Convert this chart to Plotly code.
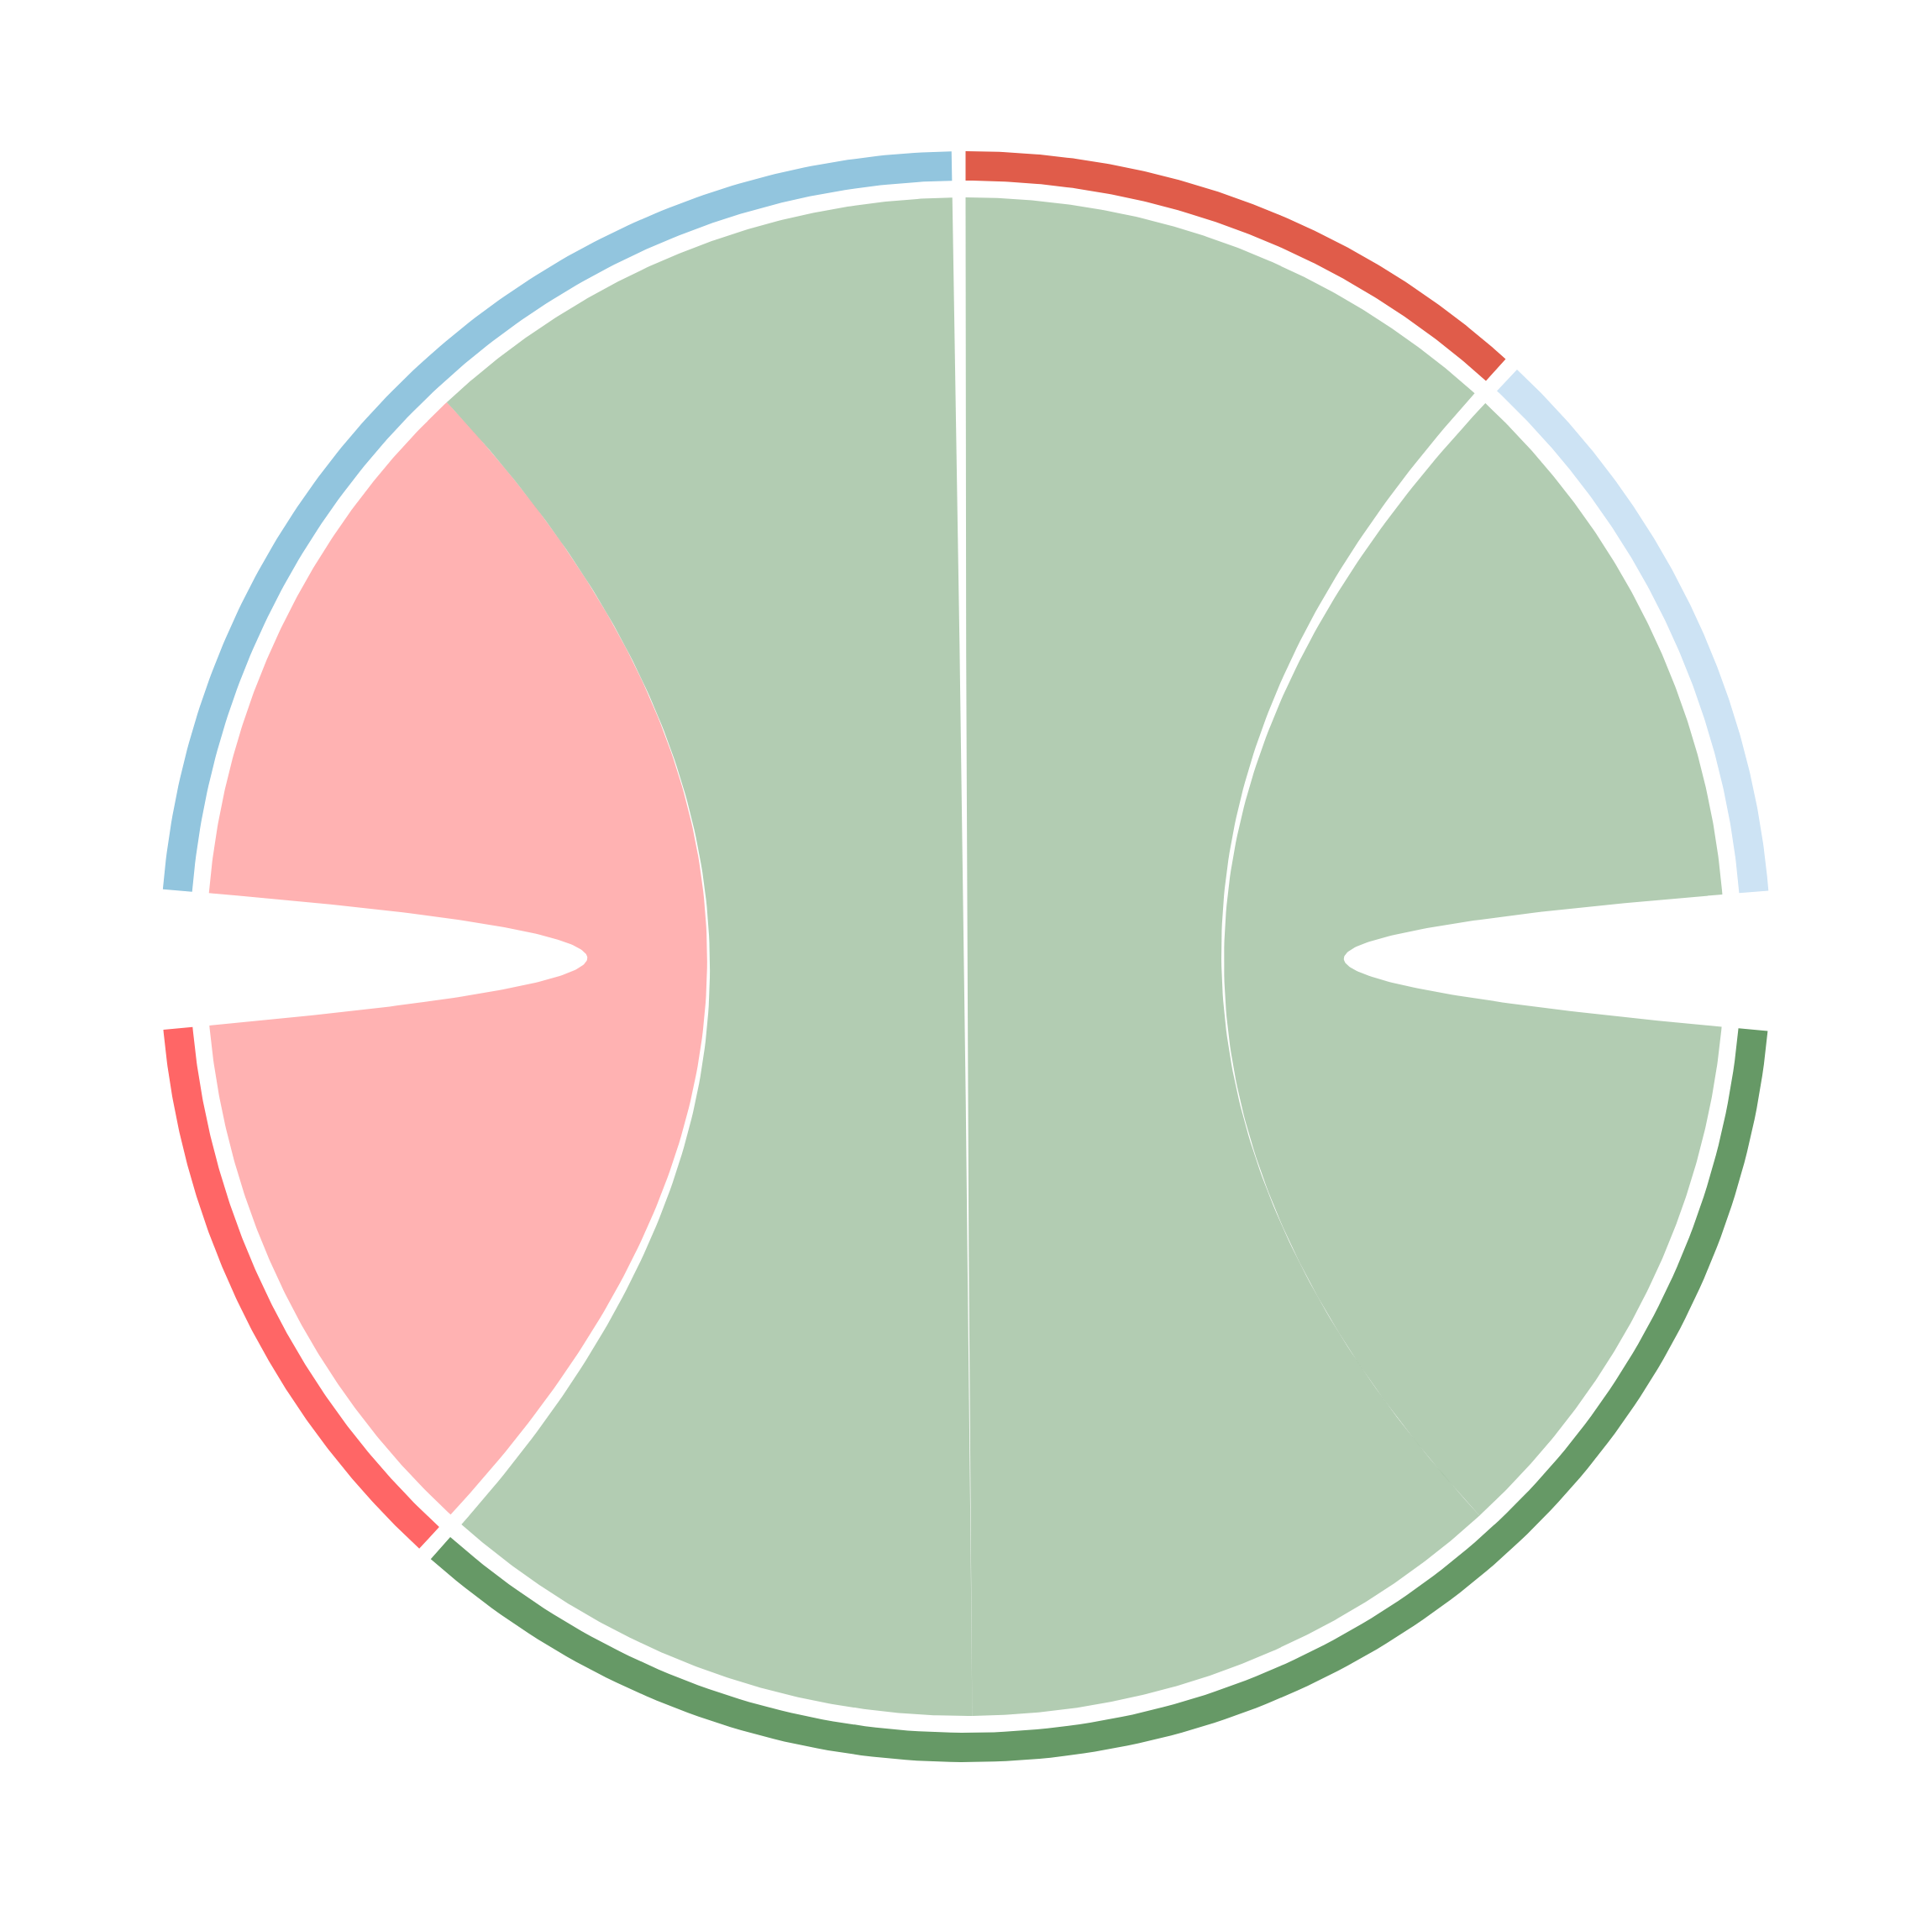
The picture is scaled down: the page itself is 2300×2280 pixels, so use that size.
import numpy as np
import plotly.graph_objects as go

# nodes in clockwise order, starting at 12 o'clock
nodes = ["S2", "S3", "T1", "T2", "S1"]
node_colors = ["#e05c4a", "#cde3f4", "#669966", "#ff6666", "#92c5de"]

# flows between nodes
flow_source = ["S1", "S1", "S2", "S3"]
flow_target = ["T2", "T1", "T1", "T1"]
flow_value = [1, 1, 1, 1]

# layout constants (degrees / radii in data units)
START_ANGLE = 90.0
GAPS_AFTER = [1.1, 10.0, 1.1, 10.0, 1.0]
R_OUT = 1.0
R_IN = 0.9635
R_CHORD = 0.9426
CHORD_ALPHA = 0.5


def hex_rgba(color, alpha):
    color = color.lstrip('#')
    r, g, b = (int(color[i:i + 2], 16) for i in (0, 2, 4))
    return f'rgba({r},{g},{b},{alpha})'


def arc(r, a0, a1, n=160):
    t = np.radians(np.linspace(a0, a1, n))
    return r * np.cos(t), r * np.sin(t)


def bezier(p0, p2, n=160):
    # quadratic curve with the control point at the centre
    t = np.linspace(0, 1, n)
    x = (1 - t) ** 2 * p0[0] + t ** 2 * p2[0]
    y = (1 - t) ** 2 * p0[1] + t ** 2 * p2[1]
    return x, y


def polar(r, a):
    a = np.radians(a)
    return r * np.cos(a), r * np.sin(a)


n = len(nodes)
idx = {name: i for i, name in enumerate(nodes)}
totals = [0.0] * n
for s, t, v in zip(flow_source, flow_target, flow_value):
    totals[idx[s]] += v
    totals[idx[t]] += v

unit = (360.0 - sum(GAPS_AFTER)) / sum(totals)

node_arcs = []
a = START_ANGLE
for i in range(n):
    end = a - totals[i] * unit
    node_arcs.append((a, end))
    a = end - GAPS_AFTER[i]

# sub-arcs for every flow end, placed clockwise, partners ordered by ccw proximity
ends = {}
for i, name in enumerate(nodes):
    links = []
    for k, (s, t, v) in enumerate(zip(flow_source, flow_target, flow_value)):
        if s == name:
            links.append((k, idx[t], v, 'src'))
        elif t == name:
            links.append((k, idx[s], v, 'tgt'))
    links.sort(key=lambda l: (i - l[1]) % n)
    a = node_arcs[i][0]
    for k, j, v, role in links:
        ends[(k, role)] = (a, a - v * unit)
        a -= v * unit

fig = go.Figure()

# chords
for k, (s, t, v) in enumerate(zip(flow_source, flow_target, flow_value)):
    s0, s1 = ends[(k, 'src')]
    t0, t1 = ends[(k, 'tgt')]
    xs, ys = [], []
    x, y = arc(R_CHORD, s0, s1)
    xs += list(x); ys += list(y)
    x, y = bezier(polar(R_CHORD, s1), polar(R_CHORD, t0))
    xs += list(x); ys += list(y)
    x, y = arc(R_CHORD, t0, t1)
    xs += list(x); ys += list(y)
    x, y = bezier(polar(R_CHORD, t1), polar(R_CHORD, s0))
    xs += list(x); ys += list(y)
    fig.add_trace(go.Scatter(x=xs, y=ys, mode='lines', fill='toself',
                             fillcolor=hex_rgba(node_colors[idx[t]], CHORD_ALPHA),
                             line=dict(width=0, color='rgba(0,0,0,0)'),
                             hoverinfo='skip', showlegend=False))

# outer ring
for i, name in enumerate(nodes):
    a0, a1 = node_arcs[i]
    xo, yo = arc(R_OUT, a0, a1)
    xi, yi = arc(R_IN, a1, a0)
    fig.add_trace(go.Scatter(x=list(xo) + list(xi), y=list(yo) + list(yi),
                             mode='lines', fill='toself',
                             fillcolor=node_colors[i],
                             line=dict(width=0, color=node_colors[i]),
                             name=name, hoverinfo='name', showlegend=False))

# pixels per data unit; centre sits at (1141.5, 1131) inside the figure
px = 959.0
cx, cy = 1141.5, 1131.0
fig.update_layout(
    width=2300, height=2280,
    margin=dict(l=0, r=0, t=0, b=0),
    plot_bgcolor='white', paper_bgcolor='white',
    showlegend=False,
    xaxis=dict(visible=False, range=[-cx / px, (2300 - cx) / px], fixedrange=True),
    yaxis=dict(visible=False, range=[-(2280 - cy) / px, cy / px], fixedrange=True),
)

fig.write_html("out.html")
